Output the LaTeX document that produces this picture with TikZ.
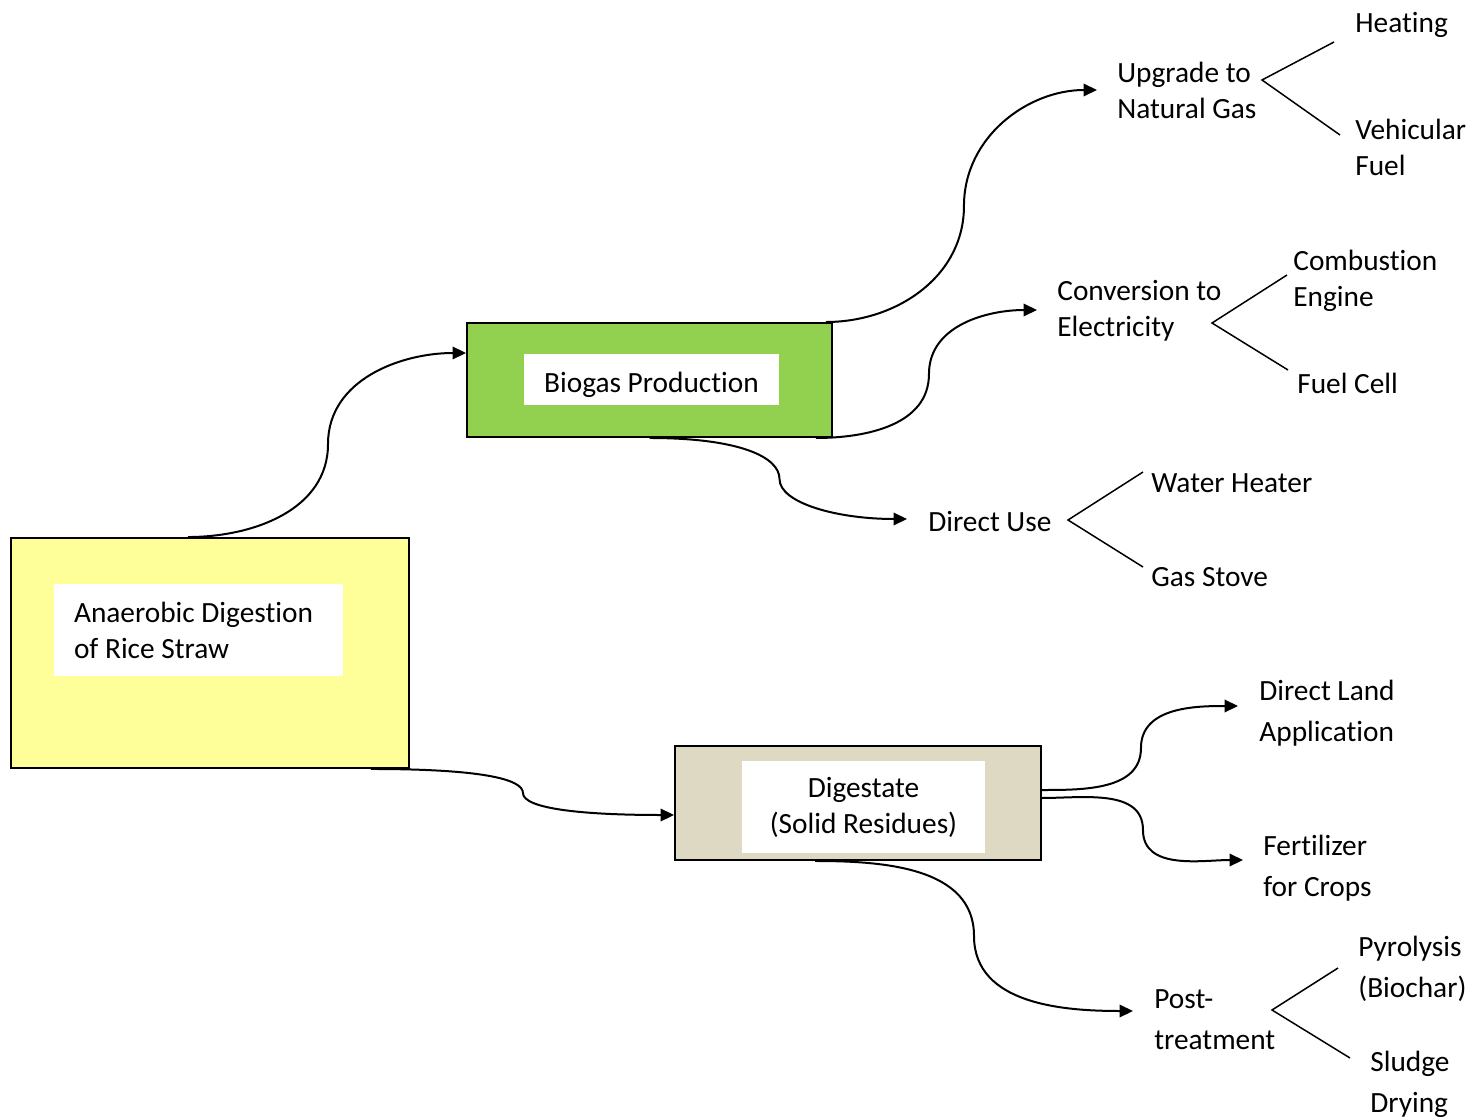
\documentclass[tikz,border=0pt]{standalone}
\usepackage{fontspec}
\setmainfont{Carlito}[Ligatures=NoCommon]
\usepackage{tikz}
\usetikzlibrary{arrows.meta, calc}
\definecolor{adcolor}{RGB}{255,255,153}
\definecolor{biocolor}{RGB}{146,208,80}
\definecolor{digcolor}{RGB}{221,217,195}
\tikzset{
  stage/.style={draw=black, line width=0.04cm, fill=#1, minimum width=7.3cm,
                minimum height=2.28cm, inner sep=0pt},
  boxtext/.style={fill=white, inner sep=0pt, align=center,
                  font=\fontsize{16.7}{20.5}\selectfont},
  outlet/.style={anchor=west, inner sep=0pt, align=left,
                 font=\fontsize{16.7}{20.5}\selectfont},
  outletwide/.style={outlet, font=\fontsize{16.7}{23.3}\selectfont},
  flow/.style={-{Triangle[length=0.27cm, width=0.25cm]}, line width=0.04cm},
  fork/.style={line width=0.03cm},
}
\begin{document}
\begin{tikzpicture}[x=0.02cm, y=-0.02cm]
  \useasboundingbox (0,0) rectangle (1470,1118);

  % main boxes
  \node[stage=adcolor, minimum width=7.96cm, minimum height=4.6cm] (ad) at (210,653) {};
  \node[boxtext, align=flush left, text width=4.98cm, inner xsep=0.4cm, minimum height=1.86cm]
    (adtxt) at (198.5,630) {Anaerobic Digestion\\of Rice Straw};
  \node[stage=biocolor] (bio) at (649.5,380) {};
  \node[boxtext, minimum width=5.1cm, minimum height=1.02cm, text height=16pt, text depth=1.2pt]
    (biotxt) at (651.5,379.5) {Biogas Production};
  \node[stage=digcolor, minimum width=7.32cm] (dig) at (858,803) {};
  \node[boxtext, minimum width=4.86cm, minimum height=1.84cm]
    (digtxt) at (863.5,807) {Digestate\\(Solid Residues)};

  % biogas uses
  \node[outlet] (up) at (1117,90) {Upgrade to\\Natural Gas};
  \node[outlet] (heat) at (1355,25) {Heating};
  \node[outlet] (veh) at (1355,147) {Vehicular\\Fuel};
  \node[outlet] (conv) at (1057,311) {Conversion to\\Electricity};
  \node[outlet] (comb) at (1293,281) {Combustion\\Engine};
  \node[outlet] (fc) at (1297,383) {Fuel Cell};
  \node[outlet] (du) at (928,522) {Direct Use};
  \node[outlet] (wh) at (1151,483) {Water Heater};
  \node[outlet] (gs) at (1151,577) {Gas Stove};

  % digestate uses
  \node[outletwide] (dla) at (1259,713) {Direct Land\\Application};
  \node[outletwide] (fert) at (1263,868) {Fertilizer\\for Crops};
  \node[outletwide] (post) at (1154,1020) {Post-\\treatment};
  \node[outletwide] (pyr) at (1358,969) {Pyrolysis\\(Biochar)};
  \node[outletwide] (sl) at (1370,1084) {Sludge\\Drying};

  \coordinate (upfork) at (1262,80);
  \coordinate (convfork) at (1212,323);
  \coordinate (dufork) at (1068,520);
  \coordinate (postfork) at (1272,1010);

  \draw[flow] ($(ad.north)+(-22,0)$) to[out=0,in=-90] ++(140,-93)
    to[out=90,in=180] ($(bio.west)+(0,-27)$);
  \draw[flow] ($(bio.north east)+(-7,0)$) to[out=0,in=-90] ++(138,-116)
    to[out=90,in=180] ($(up.west)+(-20,0)$);
  \draw[flow] ($(bio.south east)+(-17,0)$) to[out=0,in=-90] ++(113,-64)
    to[out=90,in=180] ($(conv.west)+(-20,-1)$);
  \draw[flow] (bio.south) .. controls +(90,0) and +(0,-22) .. ++(130,41)
    .. controls +(0,24) and +(-70,0) .. ($(du.west)+(-21,-3)$);
  \draw[flow] ($(ad.south east)+(-39,0)$) .. controls +(110,0) and +(0,-14) .. ++(152,24)
    .. controls +(0,16) and +(-90,0) .. ($(dig.west)+(0,12)$);
  \draw[flow] ($(dig.east)+(0,-13)$) to[out=0,in=-90] ++(99,-42)
    to[out=90,in=180] ($(dla.west)+(-21,-7)$);
  \draw[flow] ($(dig.east)+(0,-5)$) to[out=0,in=90] ++(101,32)
    to[out=-90,in=180] ($(fert.west)+(-20,-8)$);
  \draw[flow] ($(dig.south)+(-43,0)$) to[out=0,in=90] ++(159,75)
    to[out=-90,in=180] ($(post.west)+(-21,-9)$);

  \draw[fork] ($(heat.west)+(-21,17)$) -- (upfork) -- ($(veh.west)+(-15,-12)$);
  \draw[fork] ($(comb.west)+(-6,-6)$) -- (convfork) -- ($(fc.west)+(-9,-13)$);
  \draw[fork] ($(wh.west)+(-8,-11)$) -- (dufork) -- ($(gs.west)+(-8,-10)$);
  \draw[fork] ($(pyr.west)+(-20,-1)$) -- (postfork) -- ($(sl.west)+(-20,-26)$);

\end{tikzpicture}
\end{document}
